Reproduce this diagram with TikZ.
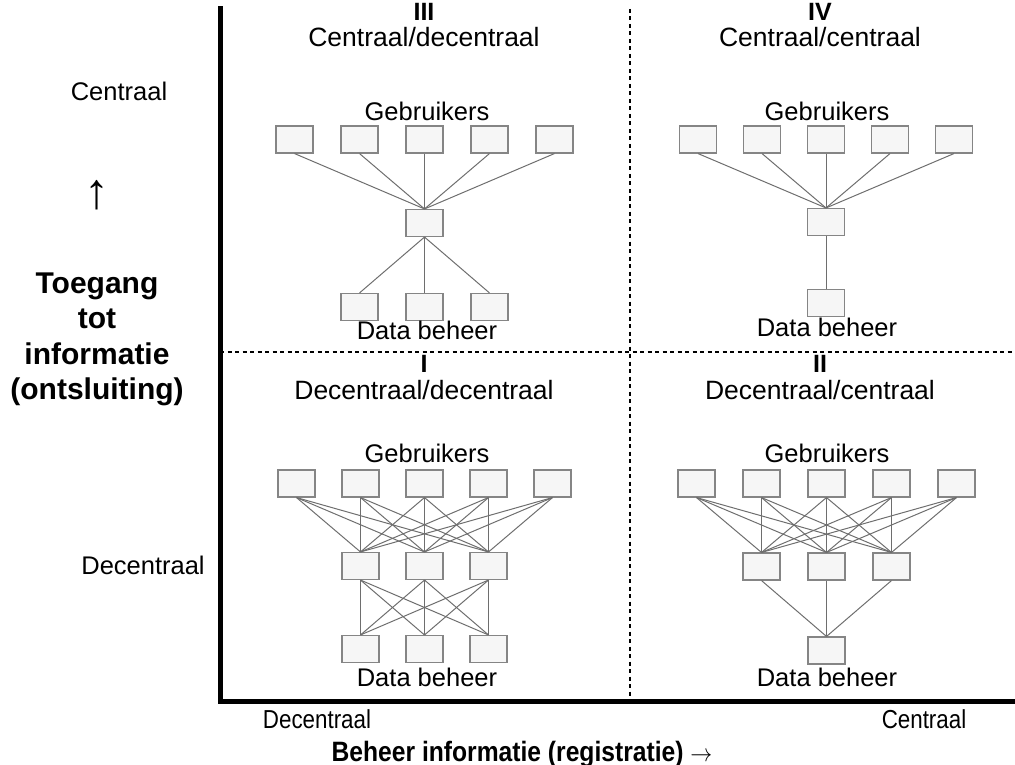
\documentclass[tikz,border=0pt]{standalone}
\usepackage{fontspec}
\usepackage{graphicx}
\setmainfont{Liberation Sans}
\definecolor{boxfill}{HTML}{F6F6F6}
\definecolor{boxline}{HTML}{858585}
\definecolor{linkgray}{HTML}{6E6E6E}
% narrower setting for the axis captions below the chart
\newcommand{\narrowtext}[2]{\scalebox{#1}[1]{#2}}
\tikzset{
  unit/.style={draw=boxline, fill=boxfill, line width=1.1pt,
    minimum width=37pt, minimum height=27pt, inner sep=0pt},
  link/.style={draw=linkgray, line width=1pt},
  axis/.style={line width=5pt, line cap=rect},
  divider/.style={line width=2pt, dash pattern=on 4pt off 3.5pt},
  lbl/.style={anchor=base, inner sep=0pt, font=\fontsize{25.5}{25.5}\selectfont},
  sublbl/.style={anchor=base, inner sep=0pt, font=\fontsize{26.5}{26.5}\selectfont},
  smalllbl/.style={anchor=base, inner sep=0pt, font=\fontsize{26}{26}\selectfont},
  num/.style={anchor=base, inner sep=0pt, font=\fontsize{25}{25}\selectfont\bfseries},
  title/.style={anchor=base, inner sep=0pt, font=\fontsize{30}{30}\selectfont\bfseries},
}
\begin{document}
\begin{tikzpicture}[x=1pt,y=-1pt]
\useasboundingbox (0,0) rectangle (1015,765);

% axes and quadrant dividers
\coordinate (top) at (220,9);
\coordinate (origin) at (220,701);
\coordinate (right) at (1015,701);
\coordinate (hl) at (220,352);
\coordinate (hr) at (1015,352);
\coordinate (vt) at (630,9);
\coordinate (vb) at (630,699);
\draw[divider] (hl) -- (hr);
\draw[divider] (vt) -- (vb);
\draw[axis] (top) -- (origin) -- (right);

% quadrant III: centraal/decentraal
\foreach \i in {1,...,5} \node[unit] (III-u\i) at ({424.5+65*(\i-3)},139.5) {};
\node[unit] (III-m) at (424.5,223) {};
\foreach \i in {1,2,3} \node[unit] (III-d\i) at ({424.5+65*(\i-2)},307) {};
\foreach \i in {1,...,5} \draw[link] (III-u\i.south) -- (III-m.north);
\foreach \i in {1,2,3} \draw[link] (III-m.south) -- (III-d\i.north);

% quadrant IV: centraal/centraal
\foreach \i in {1,...,5} \node[unit] (IV-u\i) at ({826+64*(\i-3)},139.5) {};
\node[unit] (IV-m) at (826,222) {};
\node[unit] (IV-d) at (826,303) {};
\foreach \i in {1,...,5} \draw[link] (IV-u\i.south) -- (IV-m.north);
\draw[link] (IV-m.south) -- (IV-d.north);

% quadrant I: decentraal/decentraal
\foreach \i in {1,...,5} \node[unit] (I-u\i) at ({424.5+64*(\i-3)},483.5) {};
\foreach \i in {1,2,3} \node[unit] (I-m\i) at ({424.5+64*(\i-2)},566) {};
\foreach \i in {1,2,3} \node[unit] (I-d\i) at ({424.5+64*(\i-2)},649) {};
\foreach \i in {1,...,5} \foreach \j in {1,2,3} \draw[link] (I-u\i.south) -- (I-m\j.north);
\foreach \i in {1,2,3} \foreach \j in {1,2,3} \draw[link] (I-m\i.south) -- (I-d\j.north);

% quadrant II: decentraal/centraal
\foreach \i in {1,...,5} \node[unit] (II-u\i) at ({826.5+65*(\i-3)},483.5) {};
\foreach \i in {1,2,3} \node[unit] (II-m\i) at ({826.5+65*(\i-2)},566.5) {};
\node[unit] (II-d) at (826.5,650.5) {};
\foreach \i in {1,...,5} \foreach \j in {1,2,3} \draw[link] (II-u\i.south) -- (II-m\j.north);
\foreach \i in {1,2,3} \draw[link] (II-m\i.south) -- (II-d.north);

% quadrant headings
\node[num] (hIII) at (424,21) {III};
\node[sublbl] (sIII) at (424,47) {Centraal/decentraal};
\node[num] (hIV) at (820,21) {IV};
\node[sublbl] (sIV) at (820,47) {Centraal/centraal};
\node[num] (hI) at (424,372) {I};
\node[sublbl] (sI) at (424,399) {Decentraal/decentraal};
\node[num] (hII) at (820,372) {II};
\node[sublbl] (sII) at (820,399) {Decentraal/centraal};

% layer labels
\node[lbl] (gIII) at (427,121) {Gebruikers};
\node[lbl] (dIII) at (427,339) {Data beheer};
\node[lbl] (gIV) at (827,121) {Gebruikers};
\node[lbl] (dIV) at (827,336) {Data beheer};
\node[lbl] (gI) at (427,462) {Gebruikers};
\node[lbl] (dI) at (427,686) {Data beheer};
\node[lbl] (gII) at (827,462) {Gebruikers};
\node[lbl] (dII) at (827,686) {Data beheer};

% vertical axis labels
\node[lbl] (yhi) at (119,101) {Centraal};
\node[anchor=base, inner sep=0pt, font=\fontsize{50}{50}\selectfont] (yarrow) at (97,208) {↑};
\node[title] (y1) at (97,293) {Toegang};
\node[title] (y2) at (97,328) {tot};
\node[title] (y3) at (97,364) {informatie};
\node[title] (y4) at (97,399) {(ontsluiting)};
\node[lbl] (ylo) at (143,574) {Decentraal};

% horizontal axis labels
\node[smalllbl] (xlo) at (317,728) {\narrowtext{0.86}{Decentraal}};
\node[smalllbl] (xhi) at (924,728) {\narrowtext{0.86}{Centraal}};
\node[title, font=\fontsize{28}{28}\selectfont\bfseries] (xt) at (522,761) {\narrowtext{0.88}{Beheer informatie (registratie) $\rightarrow$}};
\end{tikzpicture}
\end{document}
